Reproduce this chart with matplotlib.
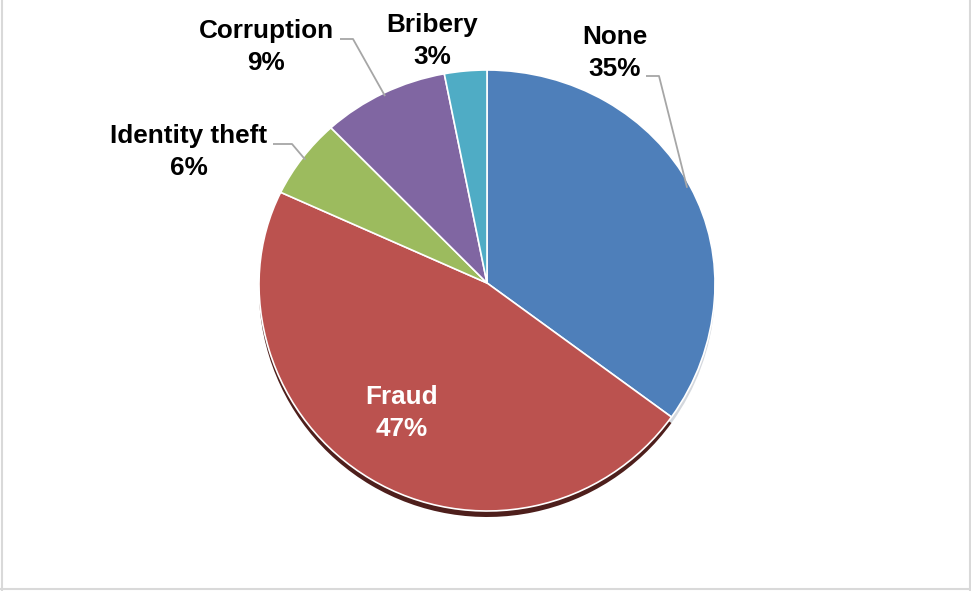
import numpy as np
import matplotlib
matplotlib.use("Agg")
import matplotlib.pyplot as plt
import matplotlib.transforms as mtransforms

# Share of reported incidents by type
categories = ["None", "Fraud", "Identity theft", "Corruption", "Bribery"]
shares = [35, 47, 6, 9, 3]
colors = ["#4e7fba", "#bb524f", "#9cbb5e", "#8066a2", "#4facc5"]
shadow_colors = ["#d4d8de", "#4e1f1c", "#3d4a25", "#33284a", "#1f4650"]

W, H = 971, 591
fig = plt.figure(figsize=(W / 100, H / 100), dpi=100)
ax = fig.add_axes([0, 0, 1, 1])

# pie placement in pixels; the far (upper) half is foreshortened
CX, CY, R = 487, H - 283, 228
TILT = 213 / 228


class Tilted(mtransforms.Transform):
    """Unit-circle pie coordinates -> pixel coordinates with a tilted top."""
    input_dims = output_dims = 2
    is_separable = False
    has_inverse = False

    def __init__(self, dy=0.0):
        super().__init__()
        self.dy = dy

    def transform_non_affine(self, xy):
        xy = np.asarray(xy, dtype=float)
        x, y = xy[:, 0], xy[:, 1]
        ys = np.where(y > 0, y * TILT, y)
        return np.column_stack([CX + R * x, CY + R * ys + self.dy])


shadow, _ = ax.pie(shares, colors=shadow_colors, startangle=90, counterclock=False,
                   radius=1, wedgeprops=dict(linewidth=0))
wedges, _ = ax.pie(shares, colors=colors, startangle=90, counterclock=False,
                   radius=1, wedgeprops=dict(edgecolor="white", linewidth=1.2))
for w in shadow:
    w.set_transform(Tilted(dy=-6) + ax.transData)
for w in wedges:
    w.set_transform(Tilted() + ax.transData)

ax.set_xlim(0, W)
ax.set_ylim(0, H)
ax.set_aspect("auto")
ax.axis("off")

font = dict(family=["Liberation Sans", "DejaVu Sans"], fontsize=18.8,
            fontweight="bold", ha="center", va="center", linespacing=1.42)

# label block centres (pixels from top-left) and elbow points of leaders
label_pos = {
    "None": (615, 53),
    "Fraud": (402, 413),
    "Identity theft": (189, 152),
    "Corruption": (266, 47),
    "Bribery": (432, 41),
}
leaders = {
    "None": [(646, 76), (659, 76)],
    "Identity theft": [(273, 144), (292, 144)],
    "Corruption": [(340, 39), (353, 39)],
}

edge = Tilted()
for w, name, val in zip(wedges, categories, shares):
    lx, ly = label_pos[name]
    color = "white" if name == "Fraud" else "black"
    ax.text(lx, H - ly, f"{name}\n{val}%", color=color, **font)
    if name in leaders:
        mid = np.deg2rad((w.theta1 + w.theta2) / 2)
        ex, ey = edge.transform(np.array([[0.985 * np.cos(mid), 0.985 * np.sin(mid)]]))[0]
        pts = leaders[name]
        xs = [p[0] for p in pts] + [ex]
        ys = [H - p[1] for p in pts] + [ey]
        ax.plot(xs, ys, color="#a6a6a6", lw=1.3, solid_capstyle="butt")

# chart frame
ax.plot([1.5, 1.5], [0, H], color="#d9d9d9", lw=1.5)
ax.plot([W - 1.5, W - 1.5], [0, H], color="#d9d9d9", lw=1.5)
ax.plot([0, W], [2, 2], color="#d9d9d9", lw=1.5)

fig.savefig("out.png", dpi=100)
